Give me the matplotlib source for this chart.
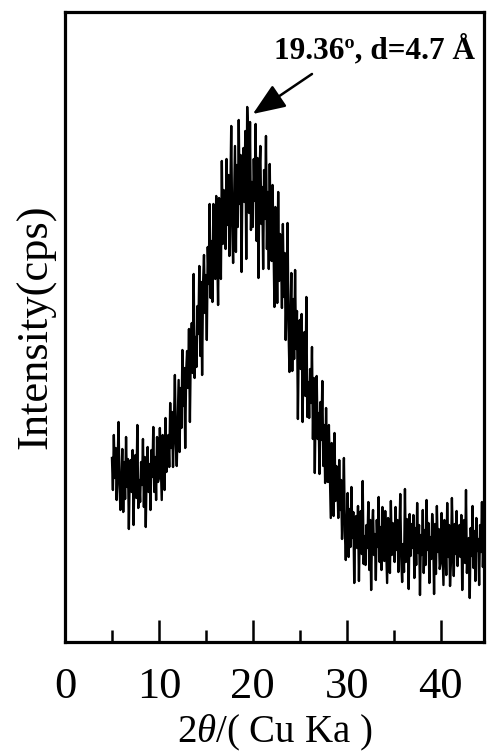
import matplotlib
matplotlib.use('Agg')
import matplotlib.pyplot as plt
import numpy as np

plt.rcParams.update({
    'font.family': ['Liberation Serif', 'DejaVu Serif'],
    'mathtext.fontset': 'custom',
    'mathtext.rm': 'Liberation Serif',
    'mathtext.it': 'Liberation Serif:italic',
    'mathtext.bf': 'Liberation Serif:bold',
})

# XRD scan, 2theta from 5.0 deg in 0.1 deg steps (one row per degree)
two_theta_start = 5.0
two_theta_step = 0.1
intensity = [
    184, 152, 207, 164, 194, 142, 177, 220, 157, 132,   # 5
    160, 193, 130, 180, 143, 205, 155, 183, 113, 173,   # 6
    182, 150, 192, 117, 172, 187, 144, 217, 134, 162,   # 7
    140, 180, 157, 203, 135, 185, 115, 177, 195, 150,   # 8
    178, 132, 192, 165, 215, 150, 185, 142, 205, 160,   # 9
    164, 214, 180, 142, 207, 192, 152, 224, 170, 202,   # 10
    207, 175, 239, 194, 230, 175, 217, 267, 200, 176,   # 11
    218, 262, 190, 254, 214, 292, 236, 274, 194, 270,   # 12
    291, 254, 313, 220, 296, 319, 269, 368, 264, 305,   # 13
    275, 336, 308, 376, 286, 360, 267, 358, 387, 329,   # 14
    367, 302, 395, 358, 438, 344, 401, 340, 438, 374,   # 15
    363, 446, 395, 337, 444, 424, 363, 481, 398, 452,   # 16
    442, 393, 483, 417, 467, 386, 444, 516, 417, 379,   # 17
    438, 496, 390, 477, 415, 522, 438, 487, 370, 473,   # 18
    494, 440, 511, 383, 535, 503, 429, 520, 412, 460,   # 19
    415, 483, 441, 518, 401, 484, 364, 467, 496, 418,   # 20
    455, 373, 472, 423, 506, 393, 450, 373, 478, 398,   # 21
    381, 457, 400, 335, 435, 407, 339, 450, 361, 408,   # 22
    389, 334, 418, 345, 389, 302, 354, 419, 314, 270,   # 23
    323, 369, 271, 343, 283, 372, 293, 331, 223, 309,   # 24
    322, 273, 328, 220, 293, 310, 246, 345, 225, 260,   # 25
    224, 273, 239, 295, 203, 264, 169, 247, 266, 203,   # 26
    229, 168, 240, 202, 261, 176, 217, 159, 234, 174,   # 27
    160, 217, 173, 124, 199, 177, 126, 209, 141, 176,   # 28
    161, 124, 182, 132, 162, 103, 139, 184, 111, 82,    # 29
    118, 149, 85, 133, 95, 155, 104, 130, 59, 117,      # 30
    126, 94, 136, 61, 116, 131, 88, 161, 78, 106,       # 31
    77, 117, 94, 140, 72, 122, 52, 114, 132, 87,        # 32
    108, 62, 122, 95, 145, 80, 115, 72, 135, 90,        # 33
    81, 131, 97, 59, 124, 109, 69, 141, 87, 119,        # 34
    112, 80, 135, 92, 122, 70, 105, 148, 85, 60,        # 35
    98, 70, 153, 80, 123, 108, 53, 128, 86, 118,        # 36
    94, 127, 64, 114, 77, 139, 89, 117, 47, 107,        # 37
    87, 132, 69, 112, 77, 142, 92, 119, 59, 105,        # 38
    83, 128, 110, 48, 118, 68, 136, 90, 113, 73,        # 39
    79, 129, 95, 57, 122, 107, 67, 139, 85, 117,        # 40
    56, 81, 144, 101, 66, 118, 88, 131, 76, 108,        # 41
    117, 85, 127, 52, 107, 122, 79, 152, 69, 97,        # 42
    104, 44, 114, 86, 136, 74, 111, 61, 124, 91,        # 43
    103, 57, 117, 90, 140, 75, 110, 67, 130, 85,        # 44
]
two_theta = two_theta_start + two_theta_step * np.arange(len(intensity))

major_ticks = [0, 10, 20, 30, 40]
minor_ticks = [5, 15, 25, 35]

peak_label = '19.36º, d=4.7 Å'
peak_xy = (20.0, 528)
arrow_tail = (26.3, 568)
label_xy = (33.0, 592)

fig = plt.figure(figsize=(4.87, 7.53), dpi=100)
ax = fig.add_axes([0.1335, 0.1474, 0.860, 0.8367])

ax.plot(two_theta, intensity, color='black', linewidth=1.7)

ax.set_xlim(0, 44.6)
ax.set_ylim(0, 630)

for sp in ax.spines.values():
    sp.set_linewidth(2.3)

ax.set_xticks(major_ticks)
ax.set_xticks(minor_ticks, minor=True)
ax.set_yticks([])
ax.tick_params(axis='x', which='major', direction='in', length=16, width=1.8,
               labelsize=32, pad=18)
ax.tick_params(axis='x', which='minor', direction='in', length=9, width=1.8)

ax.set_xlabel(r'2$\theta$/( Cu Ka )', fontsize=28, labelpad=4)
ax.set_ylabel('Intensity(cps)', fontsize=32, labelpad=6)

ax.annotate('', xy=peak_xy, xytext=arrow_tail,
            arrowprops=dict(arrowstyle='-|>,head_length=2.0,head_width=0.8',
                            color='black', lw=1.8, shrinkA=0, shrinkB=0))
ax.text(label_xy[0], label_xy[1], peak_label, ha='center', va='center',
        fontsize=22.5, fontweight='bold')

fig.savefig('out.png', dpi=100)
